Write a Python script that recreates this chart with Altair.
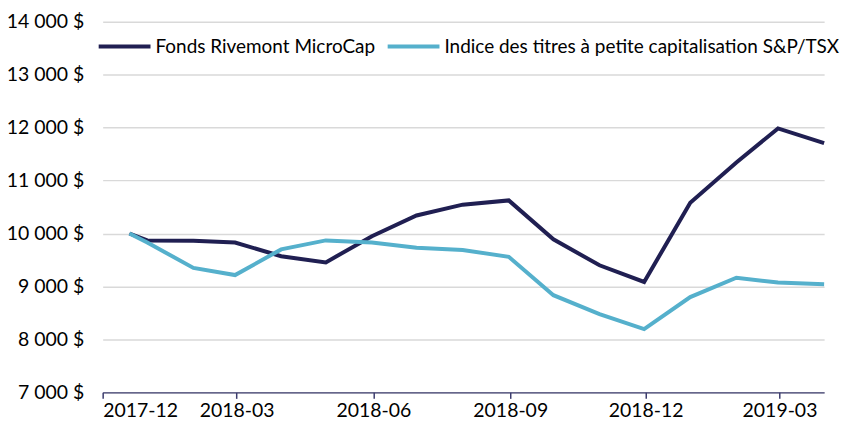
import altair as alt
import pandas as pd

dates = ["2017-12-19", "2017-12-31", "2018-01-31", "2018-02-28", "2018-03-31", "2018-04-30",
         "2018-05-31", "2018-06-30", "2018-07-31", "2018-08-31", "2018-09-30", "2018-10-31",
         "2018-11-30", "2018-12-31", "2019-01-31", "2019-02-28", "2019-03-31"]
fund = [10000, 9870, 9865, 9830, 9570, 9455, 9950, 10340, 10545, 10625, 9890, 9400,
        9085, 10580, 11340, 11985, 11705]
index = [10000, 9830, 9350, 9215, 9700, 9870, 9830, 9730, 9690, 9560, 8835, 8478,
         8195, 8800, 9165, 9073, 9040]

series_names = ["Fonds Rivemont MicroCap", "Indice des titres à petite capitalisation S&P/TSX"]
colors = ["#201F52", "#55B0CC"]

rows = []
for d, v in zip(dates, fund):
    rows.append({"date": d, "value": v, "series": series_names[0]})
for d, v in zip(dates, index):
    rows.append({"date": d, "value": v, "series": series_names[1]})
df = pd.DataFrame(rows)

tick_dates = [(2017, 12), (2018, 3), (2018, 6), (2018, 9), (2018, 12), (2019, 3)]
font = "Lato"
fs = 19.5

chart = alt.Chart(df).mark_line(strokeWidth=4).encode(
    x=alt.X("date:T",
            scale=alt.Scale(type="utc",
                            domain=[alt.DateTime(year=2017, month=12, date=1, utc=True),
                                    alt.DateTime(year=2019, month=3, date=31, utc=True)]),
            axis=alt.Axis(title=None,
                          values=[alt.DateTime(year=y, month=m, date=1, utc=True) for y, m in tick_dates],
                          labelExpr="utcFormat(datum.value, '%Y-%m')",
                          grid=False, domainColor="#3C3C6E", domainWidth=1.5,
                          tickColor="#3C3C6E", tickSize=6, tickWidth=1.5,
                          labelFont=font, labelFontSize=fs, labelColor="#000000",
                          labelPadding=3)),
    y=alt.Y("value:Q",
            scale=alt.Scale(domain=[7000, 14000], nice=False, zero=False),
            axis=alt.Axis(title=None, values=list(range(7000, 14001, 1000)),
                          labelExpr="replace(format(datum.value, ',d'), ',', ' ') + ' $'",
                          domain=False, ticks=False, grid=True, gridColor="#D9D9D9",
                          gridWidth=1.5, labelFont=font, labelFontSize=fs,
                          labelColor="#000000", labelPadding=19)),
    color=alt.Color("series:N",
                    scale=alt.Scale(domain=series_names, range=colors),
                    sort=series_names,
                    legend=alt.Legend(title=None, orient="none", legendX=-6, legendY=-3,
                                      direction="horizontal", symbolType="stroke",
                                      symbolSize=2704, symbolStrokeWidth=4,
                                      labelFont=font, labelFontSize=19, labelColor="#000000",
                                      labelLimit=600, columnPadding=4, labelOffset=3)),
).properties(
    width=724, height=372,
    autosize=alt.AutoSizeParams(type="none"),
    padding={"left": 95, "top": 13, "right": 35, "bottom": 30},
).configure_view(stroke=None)

chart.save("out.html", embed_options={"renderer": "svg", "actions": False})
